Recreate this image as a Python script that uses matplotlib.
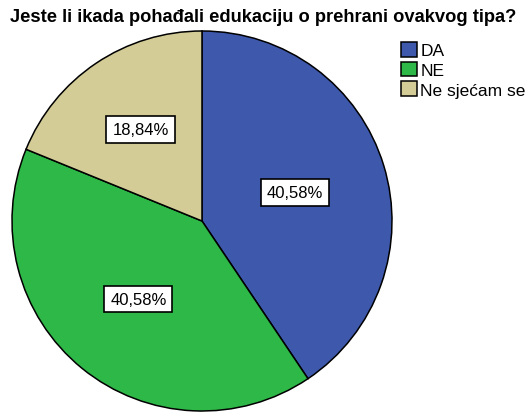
import numpy as np
import matplotlib.pyplot as plt

plt.rcParams['font.family'] = ['Liberation Sans', 'DejaVu Sans']

title = 'Jeste li ikada pohađali edukaciju o prehrani ovakvog tipa?'
categories = ['DA', 'NE', 'Ne sjećam se']
percent = [40.58, 40.58, 18.84]
percent_labels = ['40,58%', '40,58%', '18,84%']
colors = ['#3E58AC', '#2EB848', '#D4CC96']

fig = plt.figure(figsize=(5.27, 4.14), dpi=100)

# pie area (center ~ (202, 222) px, radius ~190 px)
ax = fig.add_axes([12 / 527, 2 / 414, 380 / 527, 380 / 414])
wedges, _ = ax.pie(percent, colors=colors, startangle=90, counterclock=False,
                   wedgeprops=dict(edgecolor='black', linewidth=1.1))
ax.set_xlim(-1, 1)
ax.set_ylim(-1, 1)
ax.set_aspect('equal')

# labels: SPSS puts the small slice label a bit further out
dists = [0.51, 0.53, 0.58]
for w, lab, d in zip(wedges, percent_labels, dists):
    mid = np.deg2rad((w.theta1 + w.theta2) / 2)
    ax.text(d * np.cos(mid), d * np.sin(mid), lab, ha='center', va='center',
            fontsize=12,
            bbox=dict(boxstyle='square,pad=0.35', facecolor='white',
                      edgecolor='black', linewidth=1.2))

fig.text(0.5, 1 - 17 / 414, title, ha='center', va='center',
         fontsize=13.2, fontweight='bold')

fig.legend(wedges, categories, loc='upper left',
           bbox_to_anchor=(389 / 527, 1 - 31 / 414), frameon=False,
           fontsize=12.5, handlelength=0.9, handleheight=0.9,
           handletextpad=0.2, labelspacing=0.2, borderpad=0.2)

fig.savefig('out.png', dpi=100)
